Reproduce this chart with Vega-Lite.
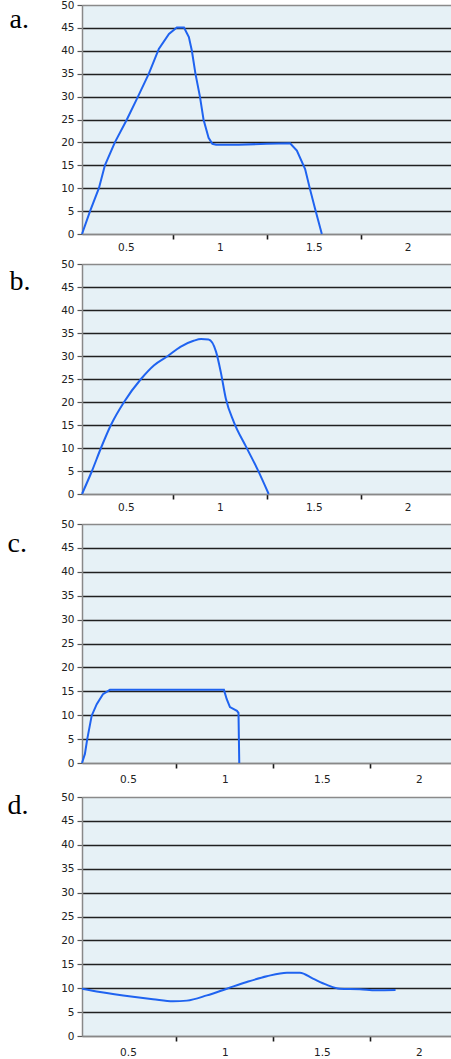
{
  "$schema": "https://vega.github.io/schema/vega-lite/v6.json",
  "padding": {"left": 7, "top": 0, "right": 0, "bottom": 0},
  "background": "white",
  "spacing": 6,
  "datasets": {
    "a": [
      {"x": 0.266, "y": 0}, {"x": 0.309, "y": 5}, {"x": 0.356, "y": 10}, {"x": 0.388, "y": 15},
      {"x": 0.441, "y": 20}, {"x": 0.505, "y": 25}, {"x": 0.564, "y": 30}, {"x": 0.622, "y": 35},
      {"x": 0.675, "y": 40.4}, {"x": 0.729, "y": 43.7}, {"x": 0.771, "y": 45.1}, {"x": 0.809, "y": 45.1},
      {"x": 0.835, "y": 43}, {"x": 0.851, "y": 40}, {"x": 0.87, "y": 35}, {"x": 0.894, "y": 30},
      {"x": 0.913, "y": 25}, {"x": 0.94, "y": 21}, {"x": 0.96, "y": 19.7}, {"x": 0.98, "y": 19.5},
      {"x": 1.1, "y": 19.5}, {"x": 1.25, "y": 19.7}, {"x": 1.374, "y": 19.8}, {"x": 1.41, "y": 18.2},
      {"x": 1.454, "y": 14.2}, {"x": 1.48, "y": 9.8}, {"x": 1.507, "y": 5.5}, {"x": 1.543, "y": 0}
    ],
    "b": [
      {"x": 0.266, "y": 0}, {"x": 0.319, "y": 5}, {"x": 0.367, "y": 10}, {"x": 0.42, "y": 15},
      {"x": 0.49, "y": 20}, {"x": 0.58, "y": 25}, {"x": 0.65, "y": 28}, {"x": 0.723, "y": 30},
      {"x": 0.79, "y": 32}, {"x": 0.86, "y": 33.3}, {"x": 0.9, "y": 33.7}, {"x": 0.94, "y": 33.6},
      {"x": 0.98, "y": 30.9}, {"x": 1.005, "y": 26.5}, {"x": 1.032, "y": 20.7}, {"x": 1.074, "y": 15.7},
      {"x": 1.138, "y": 10.4}, {"x": 1.2, "y": 5.4}, {"x": 1.26, "y": 0}
    ],
    "c": [
      {"x": 0.263, "y": 0}, {"x": 0.278, "y": 1.9}, {"x": 0.29, "y": 5}, {"x": 0.313, "y": 9.9},
      {"x": 0.339, "y": 12.3}, {"x": 0.371, "y": 14.4}, {"x": 0.407, "y": 15.3}, {"x": 0.995, "y": 15.3},
      {"x": 1.009, "y": 13.4}, {"x": 1.026, "y": 11.7}, {"x": 1.062, "y": 10.9}, {"x": 1.07, "y": 10.5},
      {"x": 1.074, "y": 0}
    ],
    "d": [
      {"x": 0.263, "y": 9.9}, {"x": 0.356, "y": 9.2}, {"x": 0.526, "y": 8.2}, {"x": 0.629, "y": 7.7},
      {"x": 0.732, "y": 7.25}, {"x": 0.804, "y": 7.4}, {"x": 0.907, "y": 8.5}, {"x": 1.01, "y": 9.9},
      {"x": 1.113, "y": 11.3}, {"x": 1.216, "y": 12.5}, {"x": 1.32, "y": 13.25}, {"x": 1.387, "y": 13.25},
      {"x": 1.454, "y": 12}, {"x": 1.526, "y": 10.7}, {"x": 1.593, "y": 9.9}, {"x": 1.696, "y": 9.8},
      {"x": 1.78, "y": 9.55}, {"x": 1.88, "y": 9.6}
    ]
  },
  "vconcat": [
    {
      "width": 382, "height": 229,
      "data": {"name": "a"},
      "mark": {"type": "line", "color": "#1f63f0", "strokeWidth": 2},
      "encoding": {
        "x": {"field": "x", "type": "quantitative", "scale": {"domain": [0.266, 2.3], "nice": false, "zero": false},
              "axis": {"values": [0.5, 0.75, 1, 1.25, 1.5, 1.75, 2], "labelPadding": 3}},
        "y": {"field": "y", "type": "quantitative", "scale": {"domain": [0, 50], "nice": false},
              "axis": {"values": [0, 5, 10, 15, 20, 25, 30, 35, 40, 45, 50], "title": "a.", "titleX": -73, "titleY": 22}}
      }
    },
    {
      "width": 382, "height": 230,
      "data": {"name": "b"},
      "mark": {"type": "line", "color": "#1f63f0", "strokeWidth": 2, "interpolate": "monotone"},
      "encoding": {
        "x": {"field": "x", "type": "quantitative", "scale": {"domain": [0.266, 2.3], "nice": false, "zero": false},
              "axis": {"values": [0.5, 0.75, 1, 1.25, 1.5, 1.75, 2], "labelPadding": 3}},
        "y": {"field": "y", "type": "quantitative", "scale": {"domain": [0, 50], "nice": false},
              "axis": {"values": [0, 5, 10, 15, 20, 25, 30, 35, 40, 45, 50], "title": "b.", "titleX": -73, "titleY": 25}}
      }
    },
    {
      "width": 395, "height": 239,
      "data": {"name": "c"},
      "mark": {"type": "line", "color": "#1f63f0", "strokeWidth": 2},
      "encoding": {
        "x": {"field": "x", "type": "quantitative", "scale": {"domain": [0.263, 2.3], "nice": false, "zero": false},
              "axis": {"values": [0.5, 0.75, 1, 1.25, 1.5, 1.75, 2], "labelPadding": 6}},
        "y": {"field": "y", "type": "quantitative", "scale": {"domain": [0, 50], "nice": false},
              "axis": {"values": [0, 5, 10, 15, 20, 25, 30, 35, 40, 45, 50], "title": "c.", "titleX": -75, "titleY": 27}}
      }
    },
    {
      "width": 395, "height": 239,
      "data": {"name": "d"},
      "mark": {"type": "line", "color": "#1f63f0", "strokeWidth": 2, "interpolate": "monotone"},
      "encoding": {
        "x": {"field": "x", "type": "quantitative", "scale": {"domain": [0.263, 2.3], "nice": false, "zero": false},
              "axis": {"values": [0.5, 0.75, 1, 1.25, 1.5, 1.75, 2], "labelPadding": 6}},
        "y": {"field": "y", "type": "quantitative", "scale": {"domain": [0, 50], "nice": false},
              "axis": {"values": [0, 5, 10, 15, 20, 25, 30, 35, 40, 45, 50], "title": "d.", "titleX": -75, "titleY": 16}}
      }
    }
  ],
  "config": {
    "view": {"fill": "#e6f1f6", "stroke": null},
    "axisX": {
      "format": "~g",
      "labelExpr": "(datum.value * 4) % 2 == 0 ? datum.label : ''",
      "tickColor": {"condition": {"test": "(datum.value * 4) % 2 == 1", "value": "#1a1a1a"}, "value": "transparent"},
      "tickSize": 5, "tickWidth": 1.6,
      "grid": false,
      "domainColor": "#888", "domainWidth": 1.5,
      "labelFont": "DejaVu Sans", "labelFontSize": 10.5, "labelColor": "#222",
      "labelOverlap": false, "labelFlush": false,
      "title": null
    },
    "axisY": {
      "grid": true,
      "gridColor": {"condition": {"test": "datum.value == 0 || datum.value == 50", "value": "#8a8a8a"}, "value": "#202020"},
      "gridWidth": 1.4,
      "tickColor": "#555", "tickSize": 5, "tickWidth": 1.2,
      "domainColor": "#888", "domainWidth": 1.5,
      "labelFont": "DejaVu Sans", "labelFontSize": 10.5, "labelColor": "#222", "labelPadding": 3,
      "labelOverlap": false, "labelFlush": false,
      "titleAngle": 0, "titleAlign": "left", "titleBaseline": "alphabetic",
      "titleFont": "Liberation Serif", "titleFontSize": 28, "titleFontWeight": "normal", "titleColor": "#000"
    }
  }
}
